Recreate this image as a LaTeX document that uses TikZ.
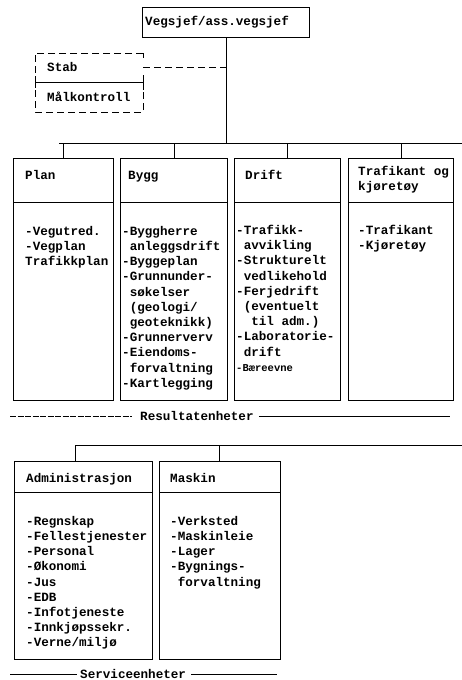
\documentclass[tikz,border=0pt]{standalone}
\usepackage{fontspec}
\setmainfont{Liberation Mono}
\begin{document}
\begin{tikzpicture}[x=1pt,y=-1pt,
  every node/.style={font=\fontsize{12.6}{15.2}\selectfont\bfseries, inner sep=0pt},
  unit/.style={draw, line width=1pt, anchor=north west, minimum height=#1},
  hdr/.style={anchor=north west, align=left, execute at begin node=\rule{0pt}{11pt}},
  body/.style={anchor=north west, align=left, execute at begin node=\rule{0pt}{11pt}},
  conn/.style={line width=0.9pt},
  rule/.style={line width=0.8pt}
]
\useasboundingbox (0,0) rectangle (462,680);

% top
\node[unit=30pt, minimum width=167pt] (top) at (142,7) {};
\node[anchor=west] (toptxt) at (145,22.5) {Vegsjef/ass.vegsjef};

% stab
\draw[dashed, dash pattern=on 7pt off 4pt, line width=0.9pt] (143,53) -- (35,53) -- (35,74);
\draw[dashed, dash pattern=on 7pt off 4pt, line width=0.9pt] (35,90) -- (35,112) -- (143,112) -- (143,90);
\draw[line width=0.9pt] (143,53) -- (143,58);
\draw[line width=0.9pt] (143,75) -- (143,90);
\draw[line width=0.9pt] (35,76) -- (35,88) (35,82) -- (143,82);
\node[anchor=base west] (stab) at (47,71.5) {Stab};
\node[anchor=base west] (malk) at (47,101.5) {Målkontroll};
\coordinate (stabR) at (143,67);

% main vertical + bus
\coordinate (bus) at (226,143);
\coordinate (staffJ) at (226,67);
\draw[conn] (top.south) -- (bus);
\draw[conn, dashed, dash pattern=on 7pt off 4pt] (stabR) -- (staffJ);
\draw[conn] (59,143) -- (462,143);

% result boxes
\node[unit=242pt, minimum width=100pt] (plan) at (13,158) {};
\node[unit=242pt, minimum width=107pt] (bygg) at (120,158) {};
\node[unit=242pt, minimum width=106pt] (drift) at (234,158) {};
\node[unit=242pt, minimum width=105pt] (traf) at (348,158) {};
\foreach \n in {plan,bygg,drift,traf}{
  \draw[line width=1pt] (\n.west |- 0,202) -- (\n.east |- 0,202);
  \draw[conn] (\n.north |- 0,143) -- (\n.north);
}

\node[hdr] (planh) at (25,168) {Plan};
\node[hdr] (byggh) at (128,168) {Bygg};
\node[hdr] (drifth) at (245,168) {Drift};
\node[hdr] (trafh) at (358,166) {Trafikant og\\kjøretøy};

\node[body] (planb) at (25,226) {-Vegutred.\\-Vegplan\\Trafikkplan};
\node[body] (byggb) at (122,226) {-Byggherre\\\ anleggsdrift\\-Byggeplan\\-Grunnunder-\\\ søkelser\\\ (geologi/\\\ geoteknikk)\\-Grunnerverv\\-Eiendoms-\\\ forvaltning\\-Kartlegging};
\node[body] (driftb) at (236,225) {-Trafikk-\\\ avvikling\\-Strukturelt\\\ vedlikehold\\-Ferjedrift\\\ (eventuelt\\\ \ til adm.)\\-Laboratorie-\\\ drift\\{\fontsize{10.5}{15.2}\selectfont -Bæreevne}};
\node[body] (trafb) at (358,225) {-Trafikant\\-Kjøretøy};

% Resultatenheter
\node[anchor=west] (res) at (140,416) {Resultatenheter};
\coordinate (resL) at (10,416);
\coordinate (resR) at (450,416);
\draw[rule, dash pattern=on 6pt off 1.5pt] (resL) -- ([xshift=-8pt]res.west);
\draw[rule] ([xshift=5pt]res.east) -- (resR);

% service bus
\draw[conn] (75,445) -- (462,445);
\node[unit=198pt, minimum width=138pt] (adm) at (14,461) {};
\node[unit=198pt, minimum width=121pt] (mask) at (159,461) {};
\foreach \n in {adm,mask}{
  \draw[line width=1pt] (\n.west |- 0,492) -- (\n.east |- 0,492);
}
\draw[conn] (75,445) -- (75,461);
\draw[conn] (219,445) -- (219,461);

\node[hdr] (admh) at (26,471) {Administrasjon};
\node[hdr] (maskh) at (170,471) {Maskin};

\node[body] (admb) at (26,516) {-Regnskap\\-Fellestjenester\\-Personal\\-Økonomi\\-Jus\\-EDB\\-Infotjeneste\\-Innkjøpssekr.\\-Verne/miljø};
\node[body] (maskb) at (170,516) {-Verksted\\-Maskinleie\\-Lager\\-Bygnings-\\\ forvaltning};

\node[anchor=west] (serv) at (80,674) {Serviceenheter};
\coordinate (servL) at (10,674);
\coordinate (servR) at (277,674);
\draw[rule] (servL) -- ([xshift=-3pt]serv.west);
\draw[rule] ([xshift=5pt]serv.east) -- (servR);
\end{tikzpicture}
\end{document}
